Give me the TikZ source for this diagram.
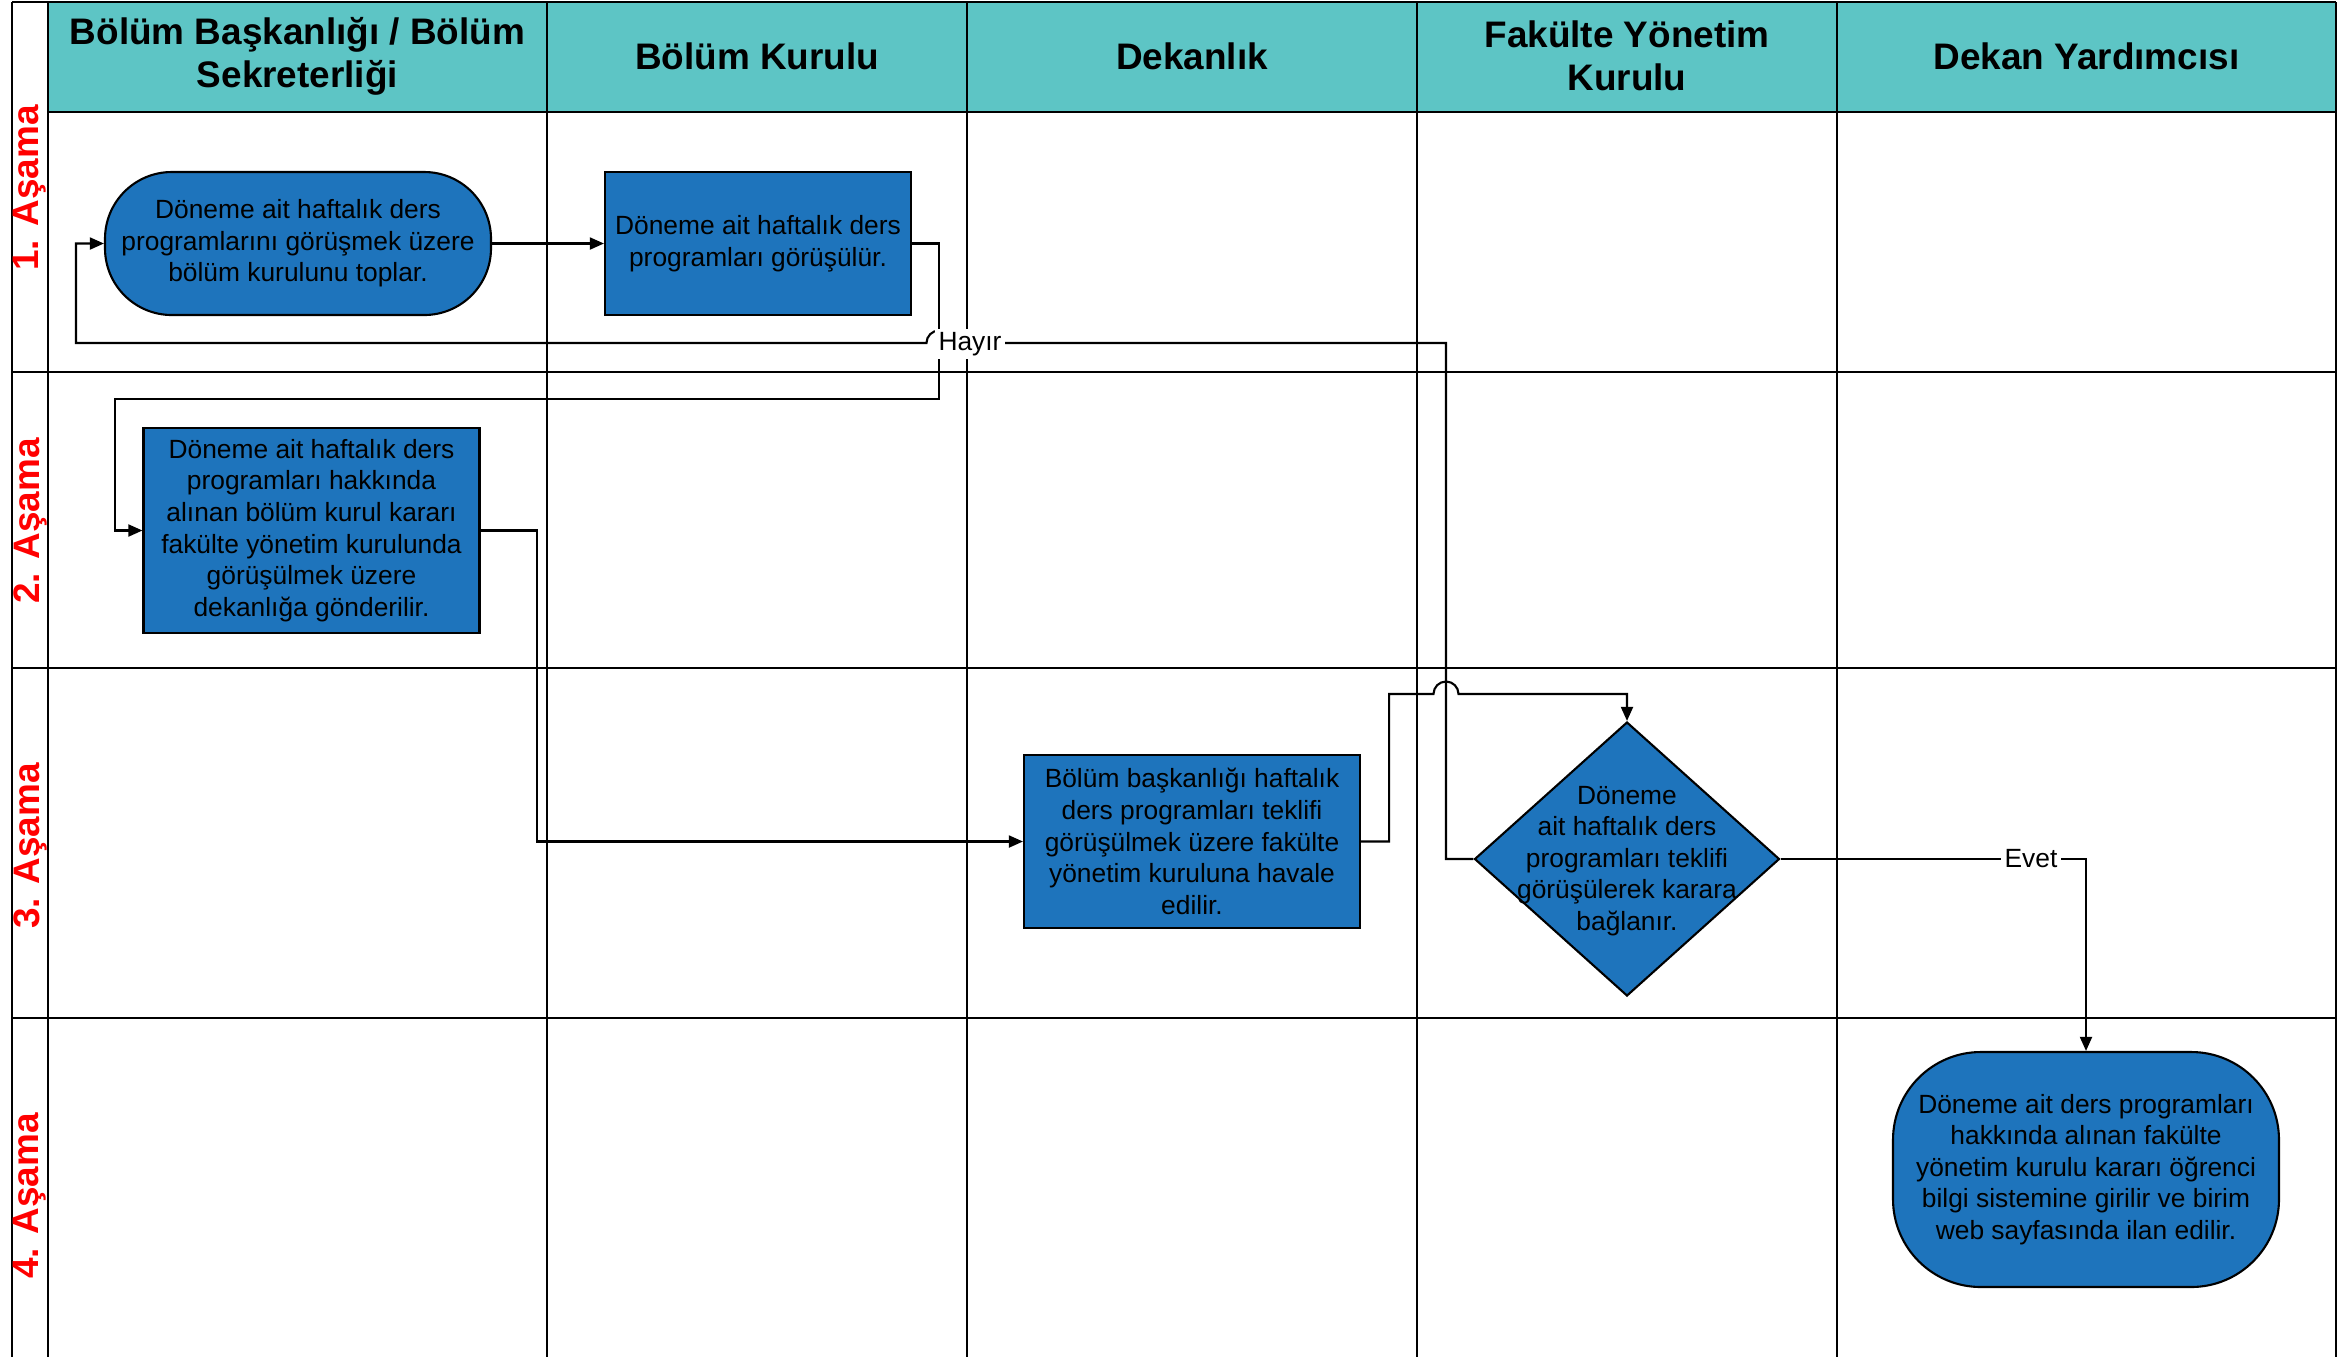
\documentclass[tikz,border=0pt]{standalone}
\usepackage{fontspec}
\setmainfont{Liberation Sans}
\usepackage{xcolor}
\usetikzlibrary{
    arrows.meta,
    calc,
    shapes.geometric
}
\definecolor{fillTeal}{RGB}{93, 197, 197}
\definecolor{fillBlue}{RGB}{30, 116, 188}

\begin{document}
\begin{tikzpicture}[x=0.1mm, y=-0.1mm, >={Triangle[length=4pt, width=3.4pt]},
    kutu/.style={draw, line width=0.6pt, fill=fillBlue, align=center, inner sep=0pt, font=\fontsize{7.5}{9}\selectfont},
    baslik/.style={align=center, font=\fontsize{10.5}{12.2}\selectfont\bfseries},
    asama/.style={rotate=90, text=red, font=\fontsize{10.5}{12.2}\selectfont\bfseries},
    akis/.style={->, line width=0.6pt},
    etiket/.style={fill=white, inner sep=1pt, font=\fontsize{7.5}{9}\selectfont}]
        \useasboundingbox (0,0) rectangle (2350,1357);

        % Koordinatlar
        \coordinate (k1) at (939,399);
        \coordinate (k2) at (115,399);
        \coordinate (k4) at (76,343);
        \coordinate (j1) at (1446,694);
        \coordinate (j2) at (939,343);

        % Tablo
        \fill[fillTeal] (48,2) rectangle (2336,112);
        \draw[line width=0.7pt] (12,2) -- (2336,2);
        \draw[line width=0.7pt] (48,112) -- (2336,112);
        \foreach \x in {12,48,547,967,1417,1837,2336}
            \draw[line width=0.7pt] (\x,2) -- (\x,1357);
        \foreach \y in {372,668,1018}
            \draw[line width=0.75pt] (12,\y) -- (2336,\y);

        \node[baslik] (baslik1) at (297.5,56) {Bölüm Başkanlığı / Bölüm\\Sekreterliği};
        \node[baslik] (baslik2) at (757,56) {Bölüm Kurulu};
        \node[baslik] (baslik3) at (1192,56) {Dekanlık};
        \node[baslik] (baslik4) at (1627,56) {Fakülte Yönetim\\Kurulu};
        \node[baslik] (baslik5) at (2086.5,56) {Dekan Yardımcısı};

        \node[asama] (asama1) at (30,188) {1. Aşama};
        \node[asama] (asama2) at (30,521) {2. Aşama};
        \node[asama] (asama3) at (30,846) {3. Aşama};
        \node[asama] (asama4) at (30,1196) {4. Aşama};

        % Adımlar
        \node[kutu, rounded corners=19pt, minimum width=38.6mm, minimum height=14.3mm] (t1) at (298,243.5)
            {Döneme ait haftalık ders\\programlarını görüşmek üzere\\bölüm kurulunu toplar.};
        \node[kutu, minimum width=30.6mm, minimum height=14.3mm] (b2) at (758,243.5)
            {Döneme ait haftalık ders\\programları görüşülür.};
        \node[kutu, minimum width=33.6mm, minimum height=20.5mm] (b3) at (311.5,530.5)
            {Döneme ait haftalık ders\\programları hakkında\\alınan bölüm kurul kararı\\fakülte yönetim kurulunda\\görüşülmek üzere\\dekanlığa gönderilir.};
        \node[kutu, minimum width=33.6mm, minimum height=17.3mm] (dek) at (1192,841.5)
            {Bölüm başkanlığı haftalık\\ders programları teklifi\\görüşülmek üzere fakülte\\yönetim kuruluna havale\\edilir.};
        \node[kutu, diamond, minimum width=30.5mm, minimum height=27.4mm] (diam) at (1627,859) {};
        \node[align=center, font=\fontsize{7.5}{9}\selectfont] (diamtxt) at (1627,861)
            {Döneme\\ait haftalık ders\\programları teklifi\\görüşülerek karara\\bağlanır.};
        \node[kutu, rounded corners=25pt, minimum width=38.6mm, minimum height=23.5mm] (t4) at (2086,1169.5)
            {Döneme ait ders programları\\hakkında alınan fakülte\\yönetim kurulu kararı öğrenci\\bilgi sistemine girilir ve birim\\web sayfasında ilan edilir.};

        % Akış
        \draw[akis] (t1.east) -- (b2.west);
        \draw[akis] (b2.east) -| (k1) -- (k2) |- (b3.west);
        \draw[akis] (b3.east) -- ++(56,0) |- (dek.west);
        \draw[akis] (dek.east) -- ++(28,0) |- ($(j1)+(-12.5,0)$)
            arc[start angle=180, end angle=360, radius=12.5] -| (diam.north);
        \draw[akis] (diam.west) -| (j1 |- j2) -- ($(j2)+(12.5,0)$)
            arc[start angle=0, end angle=-180, radius=12.5] -- (k4) |- (t1.west);
        \draw[akis] (diam.east) -| (t4.north);

        \node[etiket] (hayir) at (970,344) {Hayır};
        \node[etiket] (evet) at (2031,859) {Evet};
    \end{tikzpicture}
\end{document}
